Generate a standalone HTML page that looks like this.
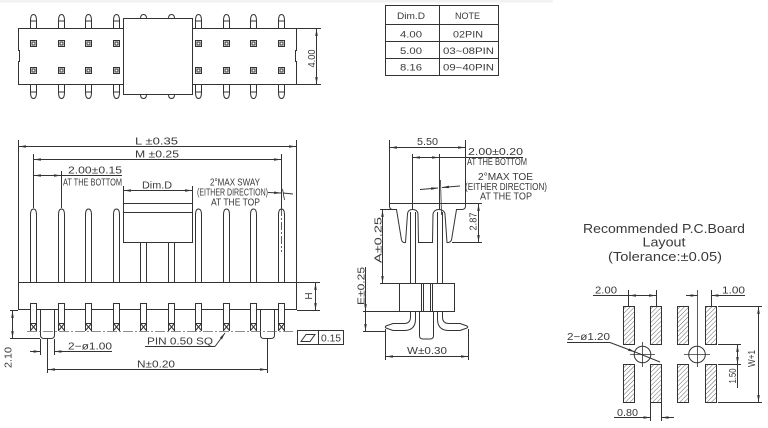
<!DOCTYPE html>
<html><head><meta charset="utf-8">
<style>
html,body{margin:0;padding:0;background:#fff;}
svg{display:block;}
text{font-family:"Liberation Sans",sans-serif;fill:#3a3a3a;stroke:none;}
</style></head>
<body>
<svg width="768" height="428" viewBox="0 0 768 428" xmlns="http://www.w3.org/2000/svg">
<defs>
<marker id="a" viewBox="0 0 8 3" refX="8" refY="1.5" markerWidth="7" markerHeight="2.6" markerUnits="userSpaceOnUse" orient="auto-start-reverse"><path d="M0,0 L8,1.5 L0,3 z" fill="#333"/></marker>
<pattern id="h" width="3.2" height="3.2" patternUnits="userSpaceOnUse" patternTransform="rotate(45)"><line x1="0" y1="0" x2="0" y2="3.2" stroke="#444" stroke-width="0.8"/></pattern>
<path id="tt" d="M-3,28.5 V21 Q-3,14.5 0,14.5 Q3,14.5 3,21 V28.5 M-3,21 H3"/>
<path id="tb" d="M-3,84.5 V92 Q-3,98.5 0,98.5 Q3,98.5 3,92 V84.5 M-3,92 H3"/>
<g id="pd"><rect x="-3" y="40.5" width="6" height="6"/><rect x="-1.5" y="42" width="3" height="3"/><rect x="-3" y="67.5" width="6" height="6"/><rect x="-1.5" y="69" width="3" height="3"/></g>
<path id="fp" d="M-3,282.5 V215 Q-3,209 0,209 Q3,209 3,215 V282.5"/>
<path id="ft" d="M-3,303.5 V331 M3,303.5 V331 M-3,323.5 H3 M-3,323.5 L3,330.5 M3,323.5 L-3,330.5"/>
</defs>

<rect x="0" y="0" width="553" height="2.5" fill="#f2f2f2"/>

<g fill="none" stroke="#333" stroke-width="1">
<!-- ===== TOP VIEW ===== -->
<path d="M18.5,28.5 H296.5 V50.5 H295.5 V61.5 H296.5 V84.5 H18.5 V61.5 H19.5 V50.5 H18.5 Z"/>
<use href="#tt" x="33.5"/><use href="#tt" x="61.5"/><use href="#tt" x="88.5"/><use href="#tt" x="116.5"/>
<use href="#tt" x="198.5"/><use href="#tt" x="226.5"/><use href="#tt" x="253.5"/><use href="#tt" x="281.5"/>
<use href="#tb" x="33.5"/><use href="#tb" x="61.5"/><use href="#tb" x="88.5"/><use href="#tb" x="116.5"/>
<use href="#tb" x="198.5"/><use href="#tb" x="226.5"/><use href="#tb" x="253.5"/><use href="#tb" x="281.5"/>
<use href="#pd" x="33.5"/><use href="#pd" x="61.5"/><use href="#pd" x="88.5"/><use href="#pd" x="116.5"/>
<use href="#pd" x="198.5"/><use href="#pd" x="226.5"/><use href="#pd" x="253.5"/><use href="#pd" x="281.5"/>
<rect x="123.5" y="18.5" width="69" height="76" fill="#fff"/>
<path d="M140.5,18.5 Q140.5,14.5 143.5,14.5 Q146.5,14.5 146.5,18.5 M168.5,18.5 Q168.5,14.5 171.5,14.5 Q174.5,14.5 174.5,18.5"/>
<path d="M140.5,94.5 Q140.5,98.5 143.5,98.5 Q146.5,98.5 146.5,94.5 M168.5,94.5 Q168.5,98.5 171.5,98.5 Q174.5,98.5 174.5,94.5"/>
<path d="M297,28.5 H321 M297,84.5 H321"/>
<line x1="316.5" y1="29" x2="316.5" y2="84" marker-start="url(#a)" marker-end="url(#a)"/>

<!-- ===== TABLE ===== -->
<rect x="385.5" y="5.5" width="113" height="70"/>
<path d="M439.5,5.5 V75.5 M385.5,24.5 H498.5 M385.5,41.5 H498.5 M385.5,58.5 H498.5"/>

<!-- ===== FRONT VIEW ===== -->
<path d="M18.5,140 V282.5 M296.5,140 V282.5"/>
<line x1="19" y1="146.5" x2="296" y2="146.5" marker-start="url(#a)" marker-end="url(#a)"/>
<path d="M33.5,154 V208 M281.5,154 V208"/>
<line x1="34" y1="159.5" x2="281" y2="159.5" marker-start="url(#a)" marker-end="url(#a)"/>
<path d="M61.5,171 V208"/>
<line x1="34" y1="175.5" x2="61" y2="175.5" marker-start="url(#a)" marker-end="url(#a)"/>
<line x1="61" y1="175.5" x2="122" y2="175.5"/>
<path d="M123.5,186 V203 M192.5,186 V203"/>
<line x1="124" y1="190.5" x2="192" y2="190.5" marker-start="url(#a)" marker-end="url(#a)"/>
<rect x="123.5" y="203.5" width="69" height="39"/>
<line x1="123.5" y1="212.5" x2="192.5" y2="212.5"/>
<path d="M140.5,242.5 V282.5 M146.5,242.5 V282.5 M168.5,242.5 V282.5 M174.5,242.5 V282.5"/>
<use href="#fp" x="33.5"/><use href="#fp" x="61.5"/><use href="#fp" x="88.5"/><use href="#fp" x="116.5"/>
<use href="#fp" x="198.5"/><use href="#fp" x="226.5"/><use href="#fp" x="253.5"/><use href="#fp" x="281.5"/>
<line x1="268" y1="192.5" x2="281" y2="193" marker-end="url(#a)"/>
<line x1="283" y1="193" x2="293" y2="194"/>
<line x1="281.5" y1="208" x2="281.5" y2="252" stroke-dasharray="8,2,2,2" stroke-width="0.8"/>
<line x1="282.5" y1="189" x2="284.5" y2="200" stroke-width="0.8"/>
<!-- housing -->
<path d="M18.5,282.5 V309.5 H30.5 V303.5 H36.5 V309.5 H58.5 V303.5 H64.5 V309.5 H85.5 V303.5 H91.5 V309.5 H113.5 V303.5 H119.5 V309.5 H140.5 V303.5 H146.5 V309.5 H168.5 V303.5 H174.5 V309.5 H195.5 V303.5 H201.5 V309.5 H223.5 V303.5 H229.5 V309.5 H250.5 V303.5 H256.5 V309.5 H278.5 V303.5 H284.5 V309.5 H296.5 V282.5 Z"/>
<use href="#ft" x="33.5"/><use href="#ft" x="61.5"/><use href="#ft" x="88.5"/><use href="#ft" x="116.5"/><use href="#ft" x="143.5"/>
<use href="#ft" x="171.5"/><use href="#ft" x="198.5"/><use href="#ft" x="226.5"/><use href="#ft" x="253.5"/><use href="#ft" x="281.5"/>
<path d="M40.5,309.5 V335 Q40.5,338.5 44,338.5 H51 Q54.5,338.5 54.5,335 V309.5"/>
<path d="M260.5,309.5 V335 Q260.5,338.5 264,338.5 H271 Q274.5,338.5 274.5,335 V309.5"/>
<line x1="27" y1="331.5" x2="293" y2="331.5" stroke="#666" stroke-width="0.8" stroke-dasharray="10,2,2,2"/>
<!-- 2.10 -->
<path d="M10,310.5 H18 M10,338.5 H40"/>
<line x1="12.5" y1="311" x2="12.5" y2="338" marker-start="url(#a)" marker-end="url(#a)"/>
<!-- 2-ø1.00 -->
<path d="M40.5,339 V355 M54.5,339 V355"/>
<line x1="30" y1="351.5" x2="40.5" y2="351.5" marker-end="url(#a)"/>
<line x1="112" y1="351.5" x2="54.5" y2="351.5" marker-end="url(#a)"/>
<!-- N -->
<path d="M47.5,339 V373 M267.5,339 V373"/>
<line x1="48" y1="369.5" x2="267" y2="369.5" marker-start="url(#a)" marker-end="url(#a)"/>
<!-- PIN SQ -->
<line x1="145" y1="346.5" x2="215" y2="346.5"/>
<line x1="215" y1="346.5" x2="225" y2="333" marker-end="url(#a)"/>
<!-- flatness -->
<rect x="297.5" y="330.5" width="46" height="14"/>
<line x1="318.5" y1="330.5" x2="318.5" y2="344.5"/>
<polygon points="301,341.5 306,334.5 315,334.5 310,341.5"/>
<!-- H -->
<path d="M297,282.5 H320 M297,310.5 H320"/>
<line x1="315.5" y1="283" x2="315.5" y2="310" marker-start="url(#a)" marker-end="url(#a)"/>

<!-- ===== SIDE VIEW ===== -->
<line x1="390" y1="147.5" x2="465" y2="147.5" marker-start="url(#a)" marker-end="url(#a)"/>
<line x1="389.5" y1="203.5" x2="465.5" y2="203.5"/>
<path d="M389.5,140 V206 Q389.5,209.5 393,209.5 H396.5 L401.5,240 Q402.5,243 405.5,242.5 L407.5,214 Q408,209.5 412.5,209.5 Q417.5,209.5 418,214 L418.5,242.5 H432.5 L433,214 Q434,209.5 439,209.5 Q444,209.5 445,214 L447,242.5 Q450,243 451.5,240 L456.5,209.5 H461.5 Q465.5,209.5 465.5,206 V140"/>
<path d="M412.5,154 V209 M439.5,154 V209"/>
<line x1="413" y1="157.5" x2="439" y2="157.5" marker-start="url(#a)" marker-end="url(#a)"/>
<line x1="439" y1="157.5" x2="523" y2="157.5"/>
<line x1="420" y1="189.5" x2="438" y2="188" marker-end="url(#a)"/>
<line x1="460" y1="186" x2="442" y2="187.5" marker-end="url(#a)"/>
<line x1="440.5" y1="180" x2="441.5" y2="215" stroke-width="0.8"/>
<path d="M410.5,212 V283.5 M415.5,212 V283.5 M437.5,212 V283.5 M442.5,212 V283.5"/>
<rect x="399.5" y="283.5" width="55" height="28"/>
<path d="M421.5,283.5 V311.5 M423.5,283.5 V311.5 M430.5,283.5 V311.5 M432.5,283.5 V311.5"/>
<path d="M410.5,311.5 V317 Q410.5,323.5 404,323.5 H393 L386,326 Q384.5,327 386,328 L393,330.5 H404 Q415.5,330.5 415.5,319 V311.5"/>
<path d="M442.5,311.5 V317 Q442.5,323.5 449,323.5 H460 L467,326 Q468.5,327 467,328 L460,330.5 H449 Q437.5,330.5 437.5,319 V311.5"/>
<path d="M419.5,311.5 V335.5 Q419.5,339 423,339 H430 Q433.5,339 433.5,335.5 V311.5"/>
<!-- A -->
<path d="M380,209.5 H397 M380,283.5 H399"/>
<line x1="382.5" y1="210" x2="382.5" y2="283" marker-start="url(#a)" marker-end="url(#a)"/>
<!-- E -->
<path d="M363,311.5 H399 M363,331.5 H385"/>
<line x1="365.5" y1="267" x2="365.5" y2="311" marker-end="url(#a)"/>
<line x1="365.5" y1="311" x2="365.5" y2="331" marker-end="url(#a)"/>
<!-- 2.87 -->
<path d="M466,203.5 H482 M452,242.5 H482"/>
<line x1="478.5" y1="204" x2="478.5" y2="242" marker-start="url(#a)" marker-end="url(#a)"/>
<!-- W -->
<path d="M385.5,329 V360 M468.5,329 V360"/>
<line x1="386" y1="356.5" x2="468" y2="356.5" marker-start="url(#a)" marker-end="url(#a)"/>

<!-- ===== PCB LAYOUT ===== -->
<g fill="url(#h)">
<rect x="623.5" y="306.5" width="11" height="38"/>
<rect x="650.5" y="306.5" width="11" height="38"/>
<rect x="677.5" y="306.5" width="11" height="38"/>
<rect x="705.5" y="306.5" width="11" height="38"/>
<rect x="623.5" y="364.5" width="11" height="38"/>
<rect x="650.5" y="364.5" width="11" height="38"/>
<rect x="677.5" y="364.5" width="11" height="38"/>
<rect x="705.5" y="364.5" width="11" height="38"/>
</g>
<circle cx="642.5" cy="354.5" r="8.3"/>
<circle cx="697" cy="354.5" r="8.3"/>
<path d="M630,354.5 H655 M642.5,342 V367 M684,354.5 H710 M697.5,290 V367" stroke-width="0.8"/>
<!-- 2.00 -->
<path d="M628.5,290 V306 M656.5,290 V306"/>
<line x1="593" y1="295.5" x2="628.5" y2="295.5"/>
<line x1="629" y1="295.5" x2="656" y2="295.5" marker-start="url(#a)" marker-end="url(#a)"/>
<!-- 1.00 -->
<path d="M711.5,290 V306"/>
<line x1="686" y1="295.5" x2="697.5" y2="295.5" marker-end="url(#a)"/>
<line x1="745" y1="295.5" x2="711.5" y2="295.5" marker-end="url(#a)"/>
<!-- 2-ø1.20 -->
<line x1="567" y1="342.5" x2="610" y2="342.5"/>
<line x1="610" y1="342.5" x2="635" y2="352" marker-end="url(#a)"/>
<line x1="635" y1="352" x2="660" y2="362"/>
<!-- W+1 -->
<path d="M718,306.5 H762 M718,402.5 H762"/>
<line x1="758.5" y1="307" x2="758.5" y2="402" marker-start="url(#a)" marker-end="url(#a)"/>
<!-- 1.50 -->
<path d="M718,344.5 H741 M718,364.5 H741"/>
<line x1="737.5" y1="345" x2="737.5" y2="364" marker-start="url(#a)" marker-end="url(#a)"/>
<line x1="737.5" y1="364" x2="737.5" y2="388"/>
<!-- 0.80 -->
<path d="M650.5,403 V421 M661.5,403 V421"/>
<line x1="614" y1="417.5" x2="650.5" y2="417.5" marker-end="url(#a)"/>
<line x1="674" y1="417.5" x2="661.5" y2="417.5" marker-end="url(#a)"/>
</g>

<!-- ===== TEXT ===== -->
<g font-size="10">
<text transform="translate(315,58.5) rotate(-90)" text-anchor="middle" textLength="18" lengthAdjust="spacingAndGlyphs">4.00</text>

<text x="397" y="19" font-size="9.5" textLength="28" lengthAdjust="spacingAndGlyphs">Dim.D</text>
<text x="455" y="19" font-size="9.5" textLength="25" lengthAdjust="spacingAndGlyphs">NOTE</text>
<text x="400" y="37.5" font-size="9.5" textLength="22" lengthAdjust="spacingAndGlyphs">4.00</text>
<text x="453" y="37.5" font-size="9.5" textLength="30" lengthAdjust="spacingAndGlyphs">02PIN</text>
<text x="400" y="54" font-size="9.5" textLength="22" lengthAdjust="spacingAndGlyphs">5.00</text>
<text x="443" y="54" font-size="9.5" textLength="51" lengthAdjust="spacingAndGlyphs">03~08PIN</text>
<text x="400" y="70.5" font-size="9.5" textLength="22" lengthAdjust="spacingAndGlyphs">8.16</text>
<text x="443" y="70.5" font-size="9.5" textLength="51" lengthAdjust="spacingAndGlyphs">09~40PIN</text>

<text x="135" y="144.5" textLength="43" lengthAdjust="spacingAndGlyphs">L ±0.35</text>
<text x="135" y="157.5" textLength="44" lengthAdjust="spacingAndGlyphs">M ±0.25</text>
<text x="68" y="173.5" textLength="54" lengthAdjust="spacingAndGlyphs">2.00±0.15</text>
<text x="63" y="185.5" textLength="59" lengthAdjust="spacingAndGlyphs">AT THE BOTTOM</text>
<text x="142" y="188.5" textLength="30" lengthAdjust="spacingAndGlyphs">Dim.D</text>
<text x="210" y="185.5" textLength="50" lengthAdjust="spacingAndGlyphs">2°MAX SWAY</text>
<text x="197" y="195.5" textLength="71" lengthAdjust="spacingAndGlyphs">(EITHER DIRECTION)</text>
<text x="211" y="205.5" textLength="49" lengthAdjust="spacingAndGlyphs">AT THE TOP</text>
<text transform="translate(312,296) rotate(-90)" text-anchor="middle">H</text>
<text transform="translate(11.5,357.5) rotate(-90)" text-anchor="middle" textLength="21" lengthAdjust="spacingAndGlyphs">2.10</text>
<text x="68" y="349.5" textLength="44" lengthAdjust="spacingAndGlyphs">2−ø1.00</text>
<text x="147" y="344.5" textLength="66" lengthAdjust="spacingAndGlyphs">PIN  0.50  SQ</text>
<text x="137" y="367.5" textLength="38" lengthAdjust="spacingAndGlyphs">N±0.20</text>
<text x="321" y="341.5" textLength="20" lengthAdjust="spacingAndGlyphs">0.15</text>

<text x="417" y="145" textLength="21" lengthAdjust="spacingAndGlyphs">5.50</text>
<text x="468" y="155" textLength="55" lengthAdjust="spacingAndGlyphs">2.00±0.20</text>
<text x="467" y="165" textLength="60" lengthAdjust="spacingAndGlyphs">AT THE BOTTOM</text>
<text x="478" y="180" textLength="55" lengthAdjust="spacingAndGlyphs">2°MAX  TOE</text>
<text x="465" y="190" textLength="82" lengthAdjust="spacingAndGlyphs">(EITHER  DIRECTION)</text>
<text x="480" y="199.5" textLength="52" lengthAdjust="spacingAndGlyphs">AT  THE  TOP</text>
<text transform="translate(476.5,221.5) rotate(-90)" text-anchor="middle" textLength="18" lengthAdjust="spacingAndGlyphs">2.87</text>
<text transform="translate(381.5,240) rotate(-90)" text-anchor="middle" textLength="46" lengthAdjust="spacingAndGlyphs">A±0.25</text>
<text transform="translate(364.5,286) rotate(-90)" text-anchor="middle" textLength="38" lengthAdjust="spacingAndGlyphs">E±0.25</text>
<text x="407" y="354" textLength="40" lengthAdjust="spacingAndGlyphs">W±0.30</text>

<text x="664" y="233" text-anchor="middle" font-size="13" textLength="162" lengthAdjust="spacingAndGlyphs">Recommended  P.C.Board</text>
<text x="664" y="246.5" text-anchor="middle" font-size="13" textLength="43" lengthAdjust="spacingAndGlyphs">Layout</text>
<text x="665" y="261" text-anchor="middle" font-size="13" textLength="114" lengthAdjust="spacingAndGlyphs">(Tolerance:±0.05)</text>
<text x="595" y="293.5" textLength="22" lengthAdjust="spacingAndGlyphs">2.00</text>
<text x="722" y="293.5" textLength="23" lengthAdjust="spacingAndGlyphs">1.00</text>
<text x="567" y="340" textLength="43" lengthAdjust="spacingAndGlyphs">2−ø1.20</text>
<text transform="translate(755,358.5) rotate(-90)" text-anchor="middle" textLength="17" lengthAdjust="spacingAndGlyphs">W+1</text>
<text transform="translate(736,376) rotate(-90)" text-anchor="middle" textLength="15" lengthAdjust="spacingAndGlyphs">1.50</text>
<text x="617" y="416" textLength="21" lengthAdjust="spacingAndGlyphs">0.80</text>
</g>
</svg>
</body></html>
